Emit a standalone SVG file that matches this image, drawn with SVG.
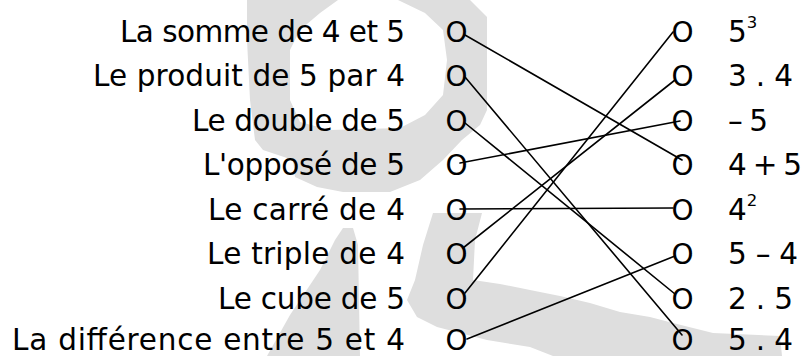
<svg xmlns="http://www.w3.org/2000/svg" width="803" height="356" viewBox="0 0 803 356">
<style>
.t{font-family:"DejaVu Sans","Liberation Sans",sans-serif;font-size:29.5px;fill:#000}
.c{font-family:"DejaVu Sans","Liberation Sans",sans-serif;font-size:28px;fill:#000}
.sup{font-size:16.5px}
.wm{fill:#dedede;stroke:none}
#connectors line{stroke:#000;stroke-width:1.6;stroke-linecap:round}
</style>
<rect width="803" height="356" fill="#fff"/>
<g id="watermark">
<path class="wm" fill-rule="evenodd" d="M247,0 L470,0 L487,17 L487,110 L480,125 L462,140 L443,160 L420,180 L390,192 L343,192 L317,187 L295,177 L293,160 L263,150 L255,140 L250,100 L247,40 Z M338,0 L398,0 L425,13 L443,30 L447,60 L443,95 L425,115 L400,128 L330,130 L300,122 L290,100 L290,50 L300,30 L320,13 Z"/>
<path class="wm" d="M343,228 L353,228 L358,245 L360,356 L267,356 L290,315 L320,270 L335,240 Z"/>
<path class="wm" d="M433,213 L482,213 L475,240 L473,280 L500,284 L530,290 L560,296 L590,303 L620,312 L650,317 L673,323 L713,333 L780,336 L782,356 L553,356 L530,347 L487,340 L437,327 L417,317 L407,300 L415,280 L423,245 Z"/>
</g>
<g id="connectors">
<line x1="465" y1="35" x2="682" y2="160"/>
<line x1="465" y1="77" x2="682" y2="335"/>
<line x1="465" y1="123" x2="675" y2="294"/>
<line x1="460" y1="163" x2="680" y2="121"/>
<line x1="460" y1="209" x2="673" y2="208"/>
<line x1="463" y1="248" x2="675" y2="80"/>
<line x1="465" y1="293" x2="673" y2="32"/>
<line x1="467" y1="339" x2="675" y2="256"/>
</g>
<g id="L1"><text class="t" x="120" y="42" textLength="285">La somme de 4 et 5</text><text class="c" x="445.5" y="42">O</text></g>
<g id="L2"><text class="t" x="93" y="86.4" textLength="312">Le produit de 5 par 4</text><text class="c" x="445.5" y="86.4">O</text></g>
<g id="L3"><text class="t" x="192" y="130.9" textLength="213">Le double de 5</text><text class="c" x="445.5" y="130.9">O</text></g>
<g id="L4"><text class="t" x="203" y="175.3" textLength="202">L'opposé de 5</text><text class="c" x="445.5" y="175.3">O</text></g>
<g id="L5"><text class="t" x="208" y="219.7" textLength="197">Le carré de 4</text><text class="c" x="445.5" y="219.7">O</text></g>
<g id="L6"><text class="t" x="207" y="264.1" textLength="198">Le triple de 4</text><text class="c" x="445.5" y="264.1">O</text></g>
<g id="L7"><text class="t" x="218" y="308.6" textLength="187">Le cube de 5</text><text class="c" x="445.5" y="308.6">O</text></g>
<g id="L8"><text class="t" x="12" y="349.5" textLength="393">La différence entre 5 et 4</text><text class="c" x="445.5" y="350">O</text></g>
<g id="R1"><text class="c" x="671.5" y="42">O</text><text class="t" x="728" y="42">5<tspan class="sup" dy="-14">3</tspan></text></g>
<g id="R2"><text class="c" x="671.5" y="86.4">O</text><text class="t" x="728" y="86.4" textLength="65">3 . 4</text></g>
<g id="R3"><text class="c" x="671.5" y="130.9">O</text><text class="t" x="728" y="130.9" textLength="40">– 5</text></g>
<g id="R4"><text class="c" x="671.5" y="175.3">O</text><text class="t" x="728" y="175.3" textLength="74">4 + 5</text></g>
<g id="R5"><text class="c" x="671.5" y="219.7">O</text><text class="t" x="728" y="219.7">4<tspan class="sup" dy="-14">2</tspan></text></g>
<g id="R6"><text class="c" x="671.5" y="264.1">O</text><text class="t" x="728" y="264.1" textLength="70">5 – 4</text></g>
<g id="R7"><text class="c" x="671.5" y="308.6">O</text><text class="t" x="728" y="308.6" textLength="65">2 . 5</text></g>
<g id="R8"><text class="c" x="671.5" y="350">O</text><text class="t" x="728" y="349.5" textLength="65">5 . 4</text></g>
</svg>
